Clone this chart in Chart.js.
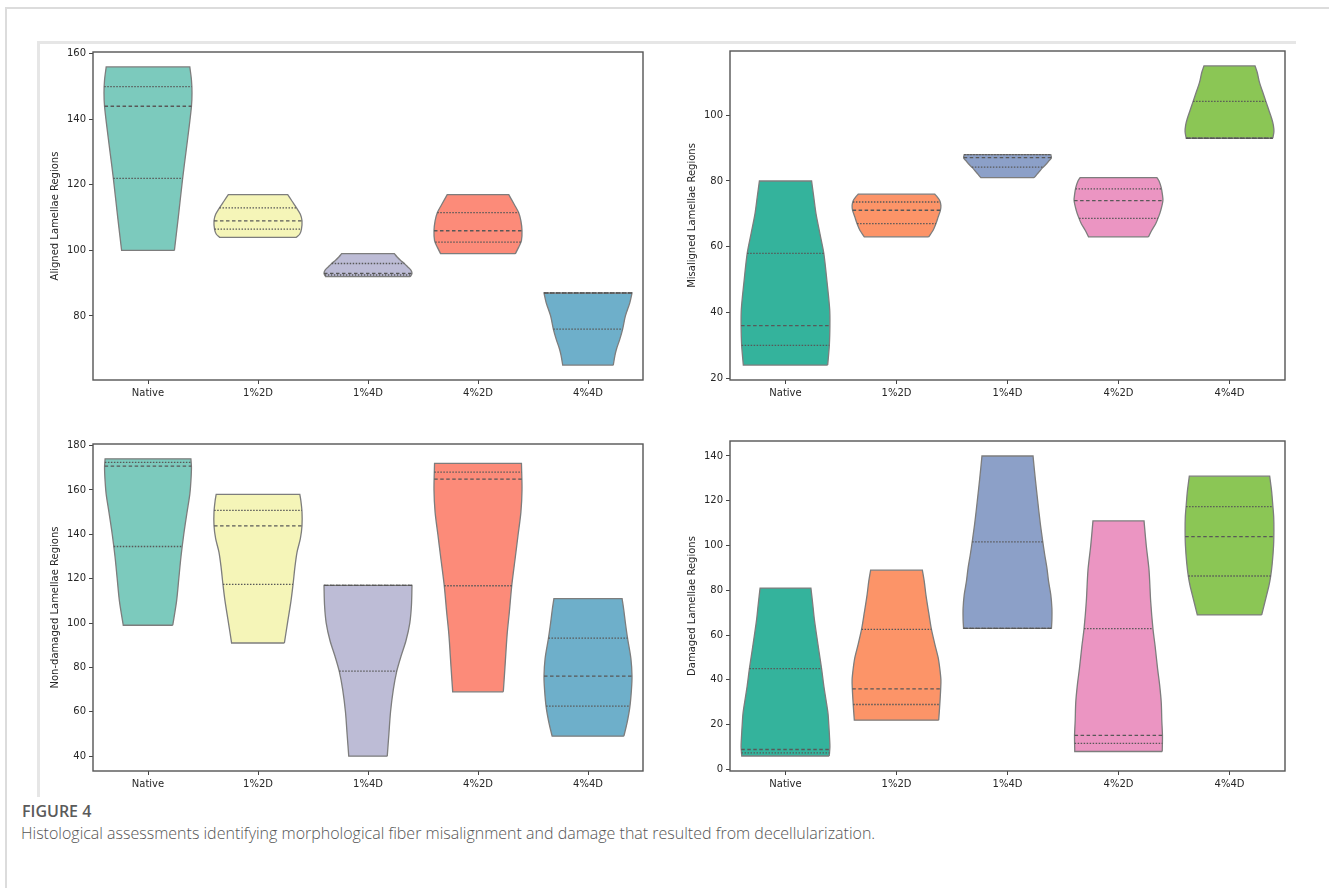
<!DOCTYPE html>
<html>
<head>
<meta charset="utf-8">
<script src="https://cdn.jsdelivr.net/npm/chart.js@4.4.1/dist/chart.umd.min.js"></script>
<style>
  body { margin: 0; width: 1329px; height: 888px; position: relative; overflow: hidden; background: #fff; }
  .outer { position: absolute; left: 5px; top: 7px; right: 0; bottom: 0; border-left: 2px solid #dcdcdc; border-top: 2px solid #dcdcdc; }
  .inner { position: absolute; left: 37px; top: 41px; width: 1256px; height: 753px; border-left: 3px solid #e6e6e6; border-top: 3px solid #e6e6e6; }
  .box { position: absolute; }
  .fig { position: absolute; left: 22px; top: 800px; font: 600 16px "Open Sans", sans-serif; color: #5a5a5a; }
  .cap { position: absolute; left: 21px; top: 822px; font: 300 16px "Open Sans", sans-serif; color: #555; white-space: nowrap; }
</style>
</head>
<body>
<div class="outer"></div>
<div class="inner"></div>
<div class="box" style="left:46px;top:42px;width:607px;height:360px"><canvas id="aligned"></canvas></div>
<div class="box" style="left:683px;top:41px;width:612px;height:361px"><canvas id="misaligned"></canvas></div>
<div class="box" style="left:46px;top:434px;width:607px;height:359px"><canvas id="nondamaged"></canvas></div>
<div class="box" style="left:683px;top:431px;width:612px;height:362px"><canvas id="damaged"></canvas></div>
<div class="fig">FIGURE 4</div>
<div class="cap">Histological assessments identifying morphological fiber misalignment and damage that resulted from decellularization.</div>
<script>
const categories = ['Native', '1%2D', '1%4D', '4%2D', '4%4D'];

const set3Colors = ['#7ccabd', '#f5f5b8', '#bdbcd6', '#fc8b79', '#6eafca'];
const set2Colors = ['#34b39c', '#fc9468', '#8ca0c8', '#eb95c2', '#8bc655'];

// violin outlines: [value, half width in category units]
const alignedTicks = [80, 100, 120, 140, 160];
const alignedQ1 = [122, 106.5, 92.5, 102.5, 76];
const alignedMedian = [144, 109, 93, 106, 87];
const alignedQ3 = [150, 113, 96, 111.5, 87];
const alignedShape = [
    [[100, 0.24], [110, 0.275], [122, 0.315], [130, 0.345], [138, 0.375], [144, 0.395], [148, 0.40], [152, 0.395], [156, 0.38]],
    [[104, 0.35], [105, 0.38], [106.5, 0.395], [109, 0.40], [111, 0.385], [113, 0.35], [115, 0.31], [117, 0.27]],
    [[92, 0.385], [93, 0.40], [94, 0.39], [95, 0.36], [96, 0.33], [97, 0.295], [98, 0.265], [99, 0.24]],
    [[99, 0.34], [101, 0.37], [103, 0.395], [106, 0.40], [109, 0.39], [111.5, 0.37], [114, 0.33], [117, 0.28]],
    [[65, 0.23], [68, 0.245], [70, 0.26], [73, 0.29], [76, 0.315], [80, 0.34], [84, 0.38], [87, 0.40]]
];

const misalignedTicks = [20, 40, 60, 80, 100];
const misalignedQ1 = [30, 67, 84.2, 68.6, 93];
const misalignedMedian = [36, 71.1, 87.1, 74, 93];
const misalignedQ3 = [58, 73.6, 88, 77.6, 104.2];
const misalignedShape = [
    [[24, 0.38], [30, 0.395], [36, 0.40], [41, 0.398], [49, 0.375], [58, 0.345], [64, 0.31], [70, 0.275], [75, 0.255], [80, 0.235]],
    [[63, 0.29], [65, 0.33], [67, 0.355], [69, 0.375], [71, 0.395], [72.5, 0.40], [74, 0.39], [75, 0.37], [76, 0.345]],
    [[81, 0.24], [82, 0.265], [83, 0.29], [84, 0.315], [85, 0.345], [86, 0.37], [87, 0.395], [88, 0.39]],
    [[63, 0.27], [65, 0.30], [67, 0.335], [69, 0.36], [71, 0.38], [74, 0.40], [76, 0.395], [78, 0.385], [80, 0.365], [81, 0.346]],
    [[93, 0.39], [95, 0.40], [97, 0.395], [99, 0.38], [101, 0.36], [104, 0.33], [107, 0.30], [110, 0.27], [113, 0.25], [115, 0.23]]
];

const nondamagedTicks = [40, 60, 80, 100, 120, 140, 160, 180];
const nondamagedQ1 = [134.5, 117.4, 78.3, 116.8, 62.5];
const nondamagedMedian = [170.7, 143.8, 117, 164.9, 76.1];
const nondamagedQ3 = [172.4, 150.8, 117, 168, 93.2];
const nondamagedShape = [
    [[99, 0.225], [110, 0.26], [120, 0.28], [130, 0.30], [140, 0.325], [150, 0.355], [158, 0.38], [164, 0.39], [170, 0.395], [174, 0.39]],
    [[91, 0.24], [100, 0.268], [110, 0.30], [118, 0.32], [125, 0.335], [132, 0.355], [138, 0.385], [144, 0.40], [150, 0.40], [155, 0.39], [158, 0.38]],
    [[40, 0.175], [50, 0.19], [60, 0.205], [70, 0.23], [78, 0.26], [85, 0.30], [92, 0.345], [100, 0.38], [108, 0.395], [117, 0.40]],
    [[69, 0.23], [80, 0.245], [95, 0.265], [105, 0.285], [117, 0.307], [130, 0.34], [140, 0.365], [150, 0.39], [160, 0.40], [172, 0.395]],
    [[49, 0.326], [55, 0.355], [62, 0.38], [70, 0.395], [76, 0.40], [84, 0.39], [93, 0.36], [100, 0.34], [106, 0.325], [111, 0.31]]
];

const damagedTicks = [0, 20, 40, 60, 80, 100, 120, 140];
const damagedQ1 = [7.4, 29, 63, 11.6, 86.4];
const damagedMedian = [8.9, 36, 63, 15.2, 104];
const damagedQ3 = [45, 62.6, 101.6, 62.9, 117.4];
const damagedShape = [
    [[6, 0.394], [10, 0.40], [15, 0.396], [20, 0.39], [25, 0.383], [31, 0.365], [37, 0.346], [45, 0.325], [52, 0.304], [60, 0.28], [67, 0.26], [74, 0.245], [81, 0.229]],
    [[22, 0.38], [29, 0.39], [36, 0.398], [40, 0.40], [45, 0.39], [50, 0.375], [56, 0.345], [63, 0.313], [70, 0.29], [78, 0.265], [84, 0.25], [89, 0.233]],
    [[63, 0.396], [67, 0.40], [72, 0.40], [78, 0.39], [84, 0.37], [90, 0.355], [96, 0.335], [102, 0.317], [110, 0.295], [120, 0.272], [130, 0.25], [140, 0.23]],
    [[8, 0.394], [15, 0.396], [22, 0.39], [30, 0.385], [38, 0.37], [45, 0.352], [55, 0.33], [63, 0.31], [75, 0.29], [89, 0.275], [100, 0.25], [111, 0.23]],
    [[69, 0.29], [74, 0.315], [78, 0.335], [82, 0.355], [86, 0.37], [92, 0.385], [100, 0.397], [107, 0.40], [113, 0.398], [118, 0.39], [124, 0.38], [128, 0.37], [131, 0.362]]
];

Chart.defaults.font.family = '"DejaVu Sans", sans-serif';
Chart.defaults.font.size = 10;
Chart.defaults.color = '#262626';

// closed outline; corner points doubled so the caps stay flat
function violinPoints(i, shape) {
    const right = shape.map(([y, w]) => ({x: i + w, y: y}));
    const left = shape.map(([y, w]) => ({x: i - w, y: y})).reverse();
    const r0 = right[0], rn = right[right.length - 1];
    const ln = left[0], l0 = left[left.length - 1];
    return [r0, ...right, rn, ln, ...left, l0, r0];
}

function widthAt(shape, y) {
    if (y <= shape[0][0]) return shape[0][1];
    for (let k = 1; k < shape.length; k++) {
        const [y0, w0] = shape[k - 1];
        const [y1, w1] = shape[k];
        if (y <= y1) return w0 + (w1 - w0) * (y - y0) / (y1 - y0);
    }
    return shape[shape.length - 1][1];
}

function quartileLine(i, shape, q, dash) {
    const w = widthAt(shape, q);
    return {
        data: [{x: i - w, y: q}, {x: i + w, y: q}],
        showLine: true,
        borderColor: '#585858',
        borderWidth: 1.3,
        borderDash: dash,
        pointRadius: 0,
        fill: false,
        order: 0
    };
}

const framePlugin = {
    id: 'frame',
    afterDraw(chart) {
        const {ctx, chartArea: a} = chart;
        ctx.save();
        ctx.strokeStyle = '#555';
        ctx.lineWidth = 1.4;
        ctx.strokeRect(a.left, a.top, a.right - a.left, a.bottom - a.top);
        ctx.restore();
    }
};

function drawPanel(id, title, ticks, q1, median, q3, shapes, colors) {
    const datasets = [];
    shapes.forEach((shape, i) => {
        datasets.push({
            data: violinPoints(i, shape),
            showLine: true,
            fill: 'shape',
            backgroundColor: colors[i],
            borderColor: '#7d7d7d',
            borderWidth: 1.3,
            tension: 0.3,
            pointRadius: 0,
            order: 1
        });
    });
    shapes.forEach((shape, i) => {
        datasets.push(quartileLine(i, shape, q1[i], [1.5, 1.5]));
        datasets.push(quartileLine(i, shape, q3[i], [1.5, 1.5]));
        datasets.push(quartileLine(i, shape, median[i], [3.5, 2.5]));
    });

    const lo = Math.min(...shapes.map(s => s[0][0]));
    const hi = Math.max(...shapes.map(s => s[s.length - 1][0]));
    const pad = (hi - lo) * 0.05;

    new Chart(document.getElementById(id), {
        type: 'scatter',
        data: {datasets: datasets},
        options: {
            responsive: true,
            maintainAspectRatio: false,
            animation: false,
            layout: {padding: {top: 10, right: 10, left: 0, bottom: 0}},
            plugins: {legend: {display: false}, tooltip: {enabled: false}},
            scales: {
                x: {
                    type: 'linear',
                    min: -0.5,
                    max: 4.5,
                    afterBuildTicks: s => { s.ticks = categories.map((c, i) => ({value: i})); },
                    afterFit: s => { s.height = 22; },
                    ticks: {callback: v => categories[v], maxRotation: 0, padding: 3},
                    grid: {drawOnChartArea: false, drawTicks: true, tickLength: 4, color: '#444'},
                    border: {display: false}
                },
                y: {
                    type: 'linear',
                    min: lo - pad,
                    max: hi + pad,
                    afterBuildTicks: s => { s.ticks = ticks.map(v => ({value: v})); },
                    afterFit: s => { s.width = 47; },
                    ticks: {padding: 3},
                    grid: {drawOnChartArea: false, drawTicks: true, tickLength: 4, color: '#444'},
                    border: {display: false},
                    title: {display: true, text: title, color: '#262626', font: {size: 10}, padding: {top: 3, bottom: 3}}
                }
            }
        },
        plugins: [framePlugin]
    });
}

drawPanel('aligned', 'Aligned Lamellae Regions', alignedTicks, alignedQ1, alignedMedian, alignedQ3, alignedShape, set3Colors);
drawPanel('misaligned', 'Misaligned Lamellae Regions', misalignedTicks, misalignedQ1, misalignedMedian, misalignedQ3, misalignedShape, set2Colors);
drawPanel('nondamaged', 'Non-damaged Lamellae Regions', nondamagedTicks, nondamagedQ1, nondamagedMedian, nondamagedQ3, nondamagedShape, set3Colors);
drawPanel('damaged', 'Damaged Lamellae Regions', damagedTicks, damagedQ1, damagedMedian, damagedQ3, damagedShape, set2Colors);
</script>
</body>
</html>
